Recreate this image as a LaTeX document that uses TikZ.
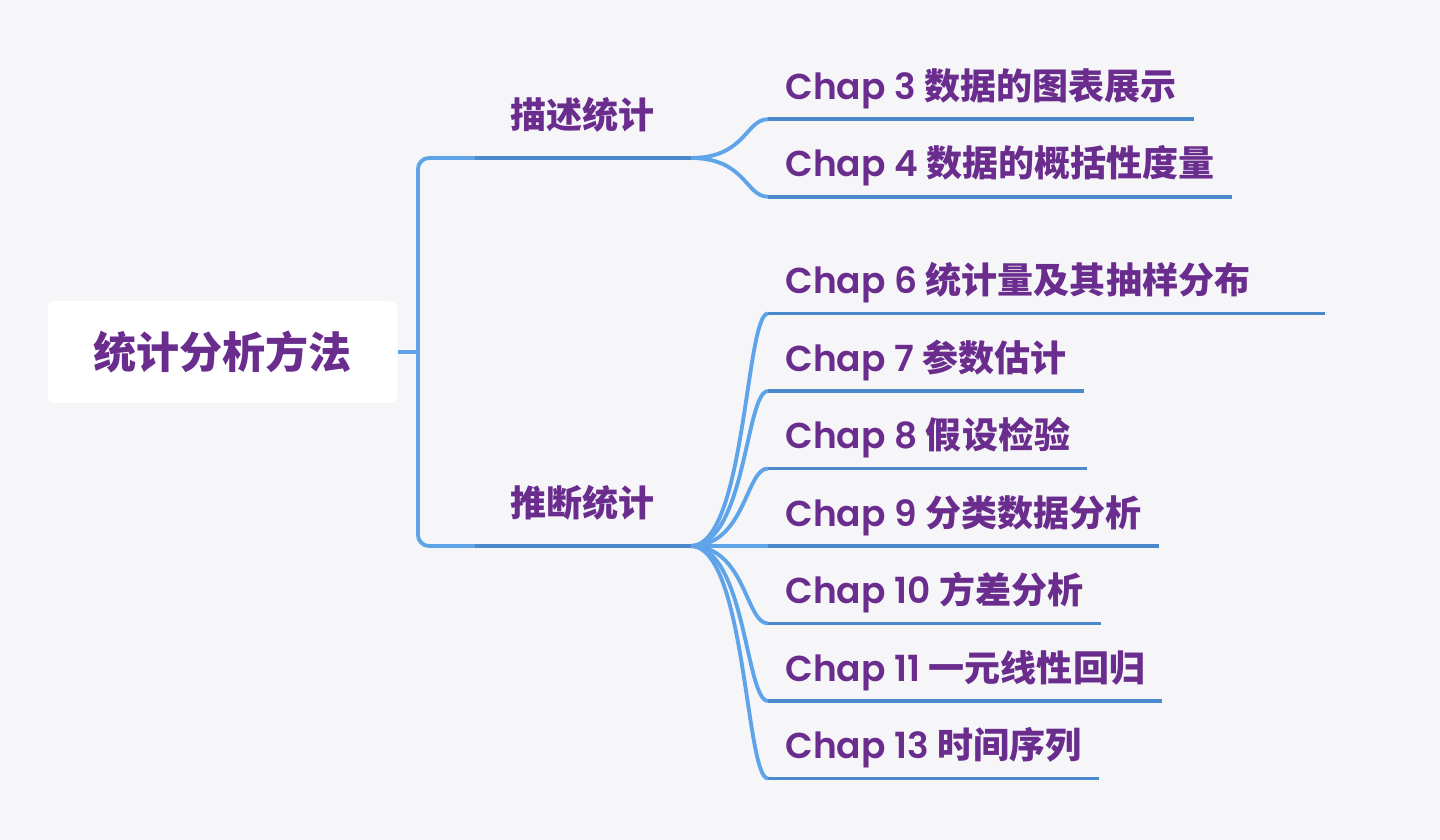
\documentclass[tikz,border=0pt]{standalone}
\usepackage{fontspec}
\setmainfont{Poppins}[BoldFont={Poppins SemiBold}]
\newfontfamily\cjk{Noto Sans CJK SC}
\usetikzlibrary{trees}

\definecolor{paper}{HTML}{F6F6F9}
\definecolor{ink}{HTML}{6A2D8E}
\definecolor{wire}{HTML}{5FA4E8}
\definecolor{wiredark}{HTML}{4B89CE}

\newcommand\chap[2]{Chap #1 {\cjk #2}}

\tikzset{
  root/.style={anchor=east, fill=white, rounded corners=0.16cm,
    minimum width=7cm, minimum height=2.04cm, text=ink,
    font=\cjk\bfseries\fontsize{24.5}{28}\selectfont},
  branch/.style={anchor=south west, minimum width=4.3cm, inner xsep=0pt,
    inner ysep=0.5cm, text height=0.75em, text depth=0.25em, text=ink,
    font=\cjk\bfseries\fontsize{20.5}{24}\selectfont},
  leaf/.style={anchor=south west, inner xsep=0.34cm, inner ysep=0.3cm,
    text height=0.75em, text depth=0.25em, text=ink,
    font=\bfseries\fontsize{20.5}{24}\selectfont},
  uline/.style={draw=wiredark, line width=2.2pt}
}

\begin{document}
\begin{tikzpicture}[%
      grow'=right, growth parent anchor=east,
      edge from parent/.style={draw=wire, line width=2.2pt},
      level 1/.style={level distance=1.54cm, sibling distance=7.76cm,
        edge from parent path={([xshift=0.4cm]\tikzparentnode.east)
          [rounded corners=0.22cm] |- (\tikzchildnode.south west)
          (\tikzparentnode.east) -- ++(0.4,0)}},
      level 2/.style={level distance=5.86cm, sibling distance=1.55cm,
        growth parent anchor=south west,
        edge from parent path={(\tikzparentnode.south east) .. controls
          +(1.1,0) and +(-0.45,0) .. (\tikzchildnode.south west)}}]
    \useasboundingbox (0,0) rectangle (28.8,16.8);
    \fill[paper] (0,0) rectangle (28.8,16.8);
    \node[root] (root) at (7.96,9.76) {统计分析方法}
    child { node[branch] (desc) {描述统计}
      child { node[leaf] (c3) {\chap{3}{数据的图表展示}}}
      child { node[leaf] (c4) {\chap{4}{数据的概括性度量}}}}
    child { node[branch] (infer) {推断统计}
      child { node[leaf] (c6) {\chap{6}{统计量及其抽样分布}\kern1.16cm}}
      child { node[leaf] (c7) {\chap{7}{参数估计}}}
      child { node[leaf] (c8) {\chap{8}{假设检验}}}
      child { node[leaf] (c9) {\chap{9}{分类数据分析}}}
      child { node[leaf] (c10) {\chap{10}{方差分析}}}
      child { node[leaf] (c11) {\chap{11}{一元线性回归}}}
      child { node[leaf] (c13) {\chap{13}{时间序列}}}};
    % underlines under every branch and leaf
    \foreach \n in {desc,infer,c3,c4,c6,c7,c8,c9,c10,c11,c13}
      \draw[uline] (\n.south west) -- (\n.south east);
  \end{tikzpicture}
\end{document}
